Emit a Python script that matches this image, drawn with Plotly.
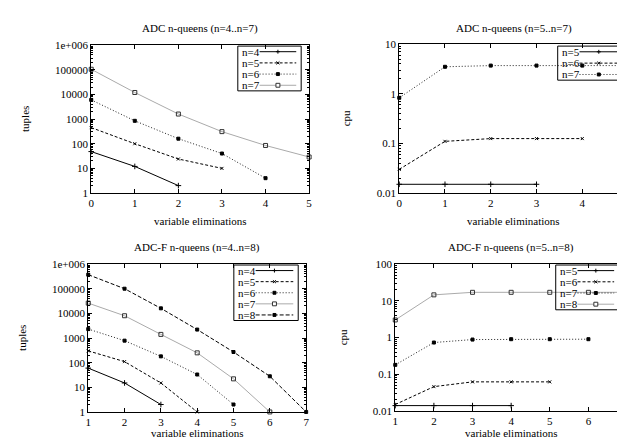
import plotly.graph_objects as go

W, H = 625, 444

# ---------------- data ----------------
# Panel 1: ADC n-queens tuples (n=4..7)
p1_x = [0, 1, 2, 3, 4, 5]
p1_n4 = [48, 12, 2]
p1_n5 = [450, 100, 24, 10]
p1_n6 = [6000, 850, 160, 40, 4]
p1_n7 = [105000, 12000, 1600, 310, 85, 29]

# Panel 2: ADC n-queens cpu (n=5..7)
p2_x = [0, 1, 2, 3, 4, 5]
p2_n5 = [0.015, 0.015, 0.015, 0.015]
p2_n6 = [0.03, 0.11, 0.125, 0.125, 0.125]
p2_n7 = [0.83, 3.5, 3.7, 3.7, 3.7, 3.7]

# Panel 3: ADC-F n-queens tuples (n=4..8)
p3_x = [1, 2, 3, 4, 5, 6, 7]
p3_n4 = [60, 15, 2]
p3_n5 = [300, 110, 15, 1]
p3_n6 = [2300, 780, 180, 33, 2]
p3_n7 = [26000, 8000, 1400, 250, 22, 1]
p3_n8 = [370000, 100000, 16000, 2200, 270, 28, 1]

# Panel 4: ADC-F n-queens cpu (n=5..8)
p4_x = [1, 2, 3, 4, 5, 6, 7]
p4_n5 = [0.014, 0.014, 0.014, 0.014]
p4_n6 = [0.015, 0.046, 0.062, 0.062, 0.062]
p4_n7 = [0.18, 0.73, 0.88, 0.9, 0.9, 0.9]
p4_n8 = [3, 14.5, 17, 17, 17, 17, 17]

tuples_ticks = [1, 10, 100, 1000, 10000, 100000, 1000000]
tuples_labels = ["1", "10", "100", "1000", "10000", "100000", "1e+006"]
cpu3_ticks = [0.01, 0.1, 1, 10]
cpu3_labels = ["0.01", "0.1", "1", "10"]
cpu4_ticks = [0.01, 0.1, 1, 10, 100]
cpu4_labels = ["0.01", "0.1", "1", "10", "100"]

titles = ["ADC n-queens (n=4..n=7)", "ADC n-queens (n=5..n=7)",
          "ADC-F n-queens (n=4..n=8)", "ADC-F n-queens (n=5..n=8)"]
xlabel = "variable eliminations"

# ---------------- styles (gnuplot line types by order) ----------------
STY = [
    dict(color="#000000", dash="solid", symbol="cross-thin-open", size=4, mcolor="#000000"),
    dict(color="#000000", dash="3px,2px", symbol="x-thin-open", size=3, mcolor="#000000"),
    dict(color="#222222", dash="1px,2px", symbol="square", size=3, mcolor="#000000"),
    dict(color="#aaaaaa", dash="solid", symbol="square-open", size=4, mcolor="#333333"),
    dict(color="#000000", dash="4px,2px", symbol="square", size=3, mcolor="#000000"),
]

FONT = "Liberation Serif, Times New Roman, Times, serif"

panels = [
    dict(px=(81, 301), py=(32, 184), xr=[0, 5], yr=[0, 6], yt=tuples_ticks, yl=tuples_labels,
         ylab="tuples", ylx=14, xt=[0, 1, 2, 3, 4, 5], leg=(229, 293, 33, 79),
         series=[("n=4", p1_n4), ("n=5", p1_n5), ("n=6", p1_n6), ("n=7", p1_n7)], x=p1_x,
         title=titles[0], ty=15, xly=213),
    dict(px=(392, 623), py=(31, 184), xr=[0, 5], yr=[-2, 1], yt=cpu3_ticks, yl=cpu3_labels,
         ylab="cpu", ylx=338, xt=[0, 1, 2, 3, 4, 5], leg=(552, 618, 33, 68),
         series=[("n=5", p2_n5), ("n=6", p2_n6), ("n=7", p2_n7)], x=p2_x,
         title=titles[1], ty=15, xly=213),
    dict(px=(78, 298), py=(257, 409), xr=[1, 7], yr=[0, 6], yt=tuples_ticks, yl=tuples_labels,
         ylab="tuples", ylx=11, xt=[1, 2, 3, 4, 5, 6, 7], leg=(225, 290, 258, 315),
         series=[("n=4", p3_n4), ("n=5", p3_n5), ("n=6", p3_n6), ("n=7", p3_n7), ("n=8", p3_n8)],
         x=p3_x, title=titles[2], ty=240, xly=431),
    dict(px=(388, 622), py=(257, 408), xr=[1, 7], yr=[-2, 2], yt=cpu4_ticks, yl=cpu4_labels,
         ylab="cpu", ylx=335, xt=[1, 2, 3, 4, 5, 6, 7], leg=(550, 614, 258, 304),
         series=[("n=5", p4_n5), ("n=6", p4_n6), ("n=7", p4_n7), ("n=8", p4_n8)], x=p4_x,
         title=titles[3], ty=240, xly=431),
]

fig = go.Figure()
shapes = []
annotations = []


def fx(px):
    return px / W


def fy(py):
    return 1 - py / H


for i, p in enumerate(panels):
    k = "" if i == 0 else str(i + 1)
    xa, ya = "x" + k, "y" + k
    for j, (name, vals) in enumerate(p["series"]):
        s = STY[j]
        fig.add_trace(go.Scatter(
            x=p["x"][:len(vals)], y=vals, xaxis=xa, yaxis=ya, mode="lines+markers",
            name=name, showlegend=False, cliponaxis=False,
            line=dict(color=s["color"], width=1, dash=s["dash"]),
            marker=dict(symbol=s["symbol"], size=s["size"], color=s["mcolor"],
                        line=dict(color=s["mcolor"], width=1)),
        ))
    minor_vals = [d * m for d in p["yt"][:-1] for m in range(2, 10)]
    axcommon = dict(showgrid=False, zeroline=False, showline=True, linecolor="black", linewidth=1,
                    mirror="ticks", ticks="inside", ticklen=4, tickcolor="black",
                    tickfont=dict(family=FONT, size=11, color="black"))
    fig.update_layout(**{
        "xaxis" + k: dict(domain=[fx(p["px"][0]), fx(p["px"][1])], range=p["xr"],
                          anchor=ya, tickvals=p["xt"], **axcommon),
        "yaxis" + k: dict(domain=[fy(p["py"][1]), fy(p["py"][0])], range=p["yr"], type="log",
                          anchor=xa, tickvals=p["yt"], ticktext=p["yl"],
                          minor=dict(ticks="inside", ticklen=2, tickcolor="black", showgrid=False,
                                     tickmode="array", tickvals=minor_vals),
                          **axcommon),
    })
    cx = (p["px"][0] + p["px"][1]) / 2
    annotations.append(dict(text=p["title"], x=fx(cx), y=fy(p["ty"]), xref="paper", yref="paper",
                            showarrow=False, font=dict(family=FONT, size=11, color="black"),
                            xanchor="center", yanchor="middle"))
    annotations.append(dict(text=xlabel, x=fx(cx), y=fy(p["xly"]), xref="paper", yref="paper",
                            showarrow=False, font=dict(family=FONT, size=11, color="black"),
                            xanchor="center", yanchor="middle"))
    cy = (p["py"][0] + p["py"][1]) / 2
    annotations.append(dict(text=p["ylab"], x=fx(p["ylx"]), y=fy(cy), xref="paper", yref="paper",
                            showarrow=False, textangle=-90,
                            font=dict(family=FONT, size=11, color="black"),
                            xanchor="center", yanchor="middle"))
    # legend box
    l, r, t, b = p["leg"]
    shapes.append(dict(type="rect", xref="paper", yref="paper", x0=fx(l), x1=fx(r), y0=fy(b), y1=fy(t),
                       line=dict(color="black", width=1), fillcolor="rgba(0,0,0,0)", layer="above"))
    nser = len(p["series"])
    step = (b - t) / nser
    for j, (name, vals) in enumerate(p["series"]):
        s = STY[j]
        yy = t + step * (j + 0.5)
        annotations.append(dict(text=name, x=fx(l + 2), y=fy(yy), xref="paper", yref="paper",
                                showarrow=False, xanchor="left", yanchor="middle",
                                font=dict(family=FONT, size=11, color="black")))
        lx0, lx1 = l + 22, r - 5
        shapes.append(dict(type="line", xref="paper", yref="paper", x0=fx(lx0), x1=fx(lx1),
                           y0=fy(yy), y1=fy(yy), layer="above",
                           line=dict(color=s["color"], width=1, dash=s["dash"])))
        mx = (lx0 + lx1) / 2
        h = s["size"] / 2
        if s["symbol"].startswith("square"):
            filled = s["symbol"] == "square"
            shapes.append(dict(type="rect", xref="paper", yref="paper", x0=fx(mx - h), x1=fx(mx + h),
                               y0=fy(yy + h), y1=fy(yy - h), layer="above",
                               line=dict(color=s["mcolor"], width=1),
                               fillcolor=s["mcolor"] if filled else "white"))
        elif s["symbol"].startswith("cross"):
            shapes.append(dict(type="line", xref="paper", yref="paper", x0=fx(mx - h), x1=fx(mx + h),
                               y0=fy(yy), y1=fy(yy), layer="above", line=dict(color="black", width=1)))
            shapes.append(dict(type="line", xref="paper", yref="paper", x0=fx(mx), x1=fx(mx),
                               y0=fy(yy - h), y1=fy(yy + h), layer="above", line=dict(color="black", width=1)))
        else:
            shapes.append(dict(type="line", xref="paper", yref="paper", x0=fx(mx - h), x1=fx(mx + h),
                               y0=fy(yy - h), y1=fy(yy + h), layer="above", line=dict(color="black", width=1)))
            shapes.append(dict(type="line", xref="paper", yref="paper", x0=fx(mx - h), x1=fx(mx + h),
                               y0=fy(yy + h), y1=fy(yy - h), layer="above", line=dict(color="black", width=1)))

fig.update_layout(width=W, height=H, margin=dict(l=0, r=0, t=0, b=0),
                  paper_bgcolor="white", plot_bgcolor="white",
                  shapes=shapes, annotations=annotations, showlegend=False,
                  font=dict(family=FONT, size=11, color="black"))

fig.write_html("out.html")
